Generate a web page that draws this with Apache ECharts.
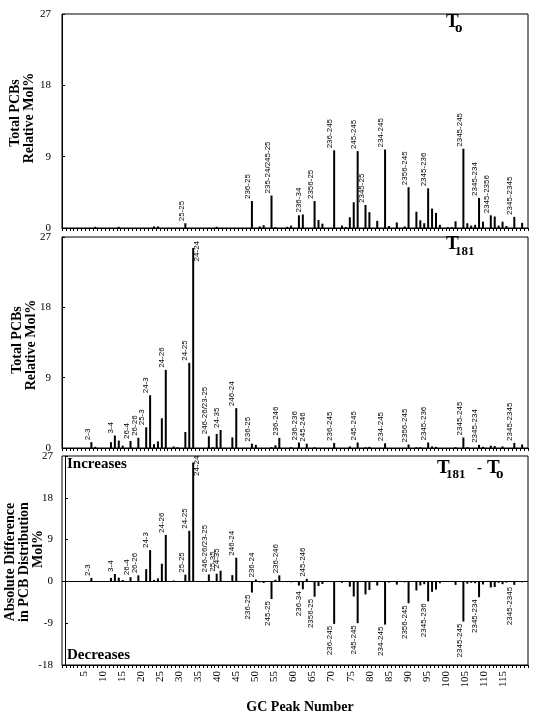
<!DOCTYPE html>
<html><head><meta charset="utf-8">
<script src="https://cdn.jsdelivr.net/npm/echarts@6/dist/echarts.min.js"></script>
<style>html,body{margin:0;padding:0;background:#fff}#c{width:544px;height:722px}</style>
</head><body><div id="c"></div>
<script>
// GC peak slots (bar categories)
const peaks = [];
for (let i = 1; i <= 119; i++) peaks.push(i);

// x tick labels shown under the bottom panel
const xTickLabels = [5,10,15,20,25,30,35,40,45,50,55,60,65,70,75,80,85,90,95,100,105,110,115];

// T0 relative mol% (index = peak-1)
const t0 = [
  0,0,0,0,0,0,0,0,0.15,0,
  0,0,0,0,0.15,0,0,0,0,0,
  0,0,0,0.2,0.2,0,0,0,0,0,
  0,0.6,0,0,0,0,0,0,0,0.15,
  0,0,0,0,0,0,0,0,3.4,0,
  0.2,0.35,0,4.1,0.1,0,0,0.15,0.3,0,
  1.6,1.7,0,0,3.4,1.0,0.55,0,0,9.8,
  0,0.3,0.1,1.35,3.25,9.7,0,2.9,2.0,0,
  0.9,0,9.9,0.25,0,0.7,0,0.2,5.15,0,
  2.05,0.97,0.6,5.0,2.45,1.9,0.4,0,0.1,0.1,
  0.85,0,10.0,0.6,0.3,0.4,3.8,0.8,0,1.6,
  1.45,0.3,0.8,0.25,0,1.4,0,0.65,0
];

// T181 relative mol%
const t181 = [
  0,0,0,0,0,0,0,0.75,0.15,0,
  0,0,0.75,1.6,0.95,0.3,0,0.9,0,1.3,
  0,2.65,6.75,0.5,0.85,3.8,10.0,0,0.2,0.1,
  0,2.05,10.9,25.6,0,0,0,1.5,0.1,1.8,
  2.3,0,0,1.35,5.1,0,0,0,0.55,0.4,
  0,0,0,0.1,0.35,1.3,0,0,0.1,0,
  0.7,0,0.55,0,0.1,0,0,0,0,0.65,
  0,0,0,0.2,0,0.7,0,0.1,0.15,0,
  0,0,0.6,0,0,0,0,0,0.45,0,
  0.1,0.1,0,0.7,0.2,0.15,0,0,0,0,
  0.1,0,1.35,0.1,0,0,0.4,0.15,0,0.3,
  0.25,0,0.2,0,0,0.65,0,0.45,0
];

// T181 - T0 absolute difference
const diff = [
  0,0,0,0,0,0,0,0.75,0,0,
  0,0,0.75,1.6,0.8,0.3,0,0.9,0,1.3,
  0,2.65,6.75,0.3,0.65,3.8,10.0,0,0.2,0.1,
  0,1.45,10.9,25.6,0,0,0,1.5,0.1,1.65,
  2.3,0,0,1.35,5.1,0,0,0,-2.4,0.4,
  -0.2,-0.35,0,-3.8,0.35,1.3,0,-0.15,-0.2,0,
  -0.9,-1.7,0.55,0,-3.3,-1.0,-0.55,0,0,-9.15,
  0,-0.3,-0.1,-1.15,-3.25,-9.0,0,-2.8,-1.85,0,
  -0.9,0,-9.3,-0.25,0,-0.7,0,-0.2,-4.7,0,
  -1.95,-0.87,-0.6,-4.3,-2.25,-1.75,-0.4,0,-0.1,-0.1,
  -0.75,0,-8.65,-0.5,-0.3,-0.4,-3.4,-0.65,0,-1.3,
  -1.2,-0.3,-0.6,-0.25,0,-0.75,0,-0.2,0
];

// congener labels: [peak, name]
const labelsT0 = [
  [32,'25-25'],[49,'236-25'],[54,'235-24/245-25'],[62,'236-34'],[65,'2356-25'],
  [70,'236-245'],[76,'245-245'],[78,'2345-25'],[83,'234-245'],[89,'2356-245'],
  [94,'2345-236'],[103,'2345-245'],[107,'2345-234'],[110,'2345-2356'],[116,'2345-2345']
];
const labelsT181 = [
  [8,'2-3'],[14,'3-4'],[18,'26-4'],[20,'26-26'],[22,'25-3'],[23,'24-3'],[27,'24-26'],
  [33,'24-25'],[34,'24-24'],[38,'246-26/23-25'],[41,'24-35'],[45,'246-24'],[49,'236-25'],
  [56,'236-246'],[61,'236-236'],[63,'245-246'],[70,'236-245'],[76,'245-245'],[83,'234-245'],
  [89,'2356-245'],[94,'2345-236'],[103,'2345-245'],[107,'2345-234'],[116,'2345-2345']
];
const labelsDiff = [
  [8,'2-3'],[14,'3-4'],[18,'26-4'],[20,'26-26'],[23,'24-3'],[27,'24-26'],[32,'25-25'],
  [33,'24-25'],[34,'24-24'],[38,'246-26/23-25'],[40,'25-35'],[41,'24-35'],[45,'246-24'],
  [49,'236-25'],[50,'236-24'],[54,'245-25'],[56,'236-246'],[62,'236-34'],[63,'245-246'],
  [65,'2356-25'],[70,'236-245'],[76,'245-245'],[83,'234-245'],[89,'2356-245'],
  [94,'2345-236'],[103,'2345-245'],[107,'2345-234'],[116,'2345-2345']
];

const SERIF = '"Liberation Serif", "Times New Roman", serif';
const SANS = '"Liberation Sans", Arial, sans-serif';

function labelFor(v, name) {
  const base = { show: true, formatter: name, rotate: 90, fontSize: 8, fontFamily: SANS, color: '#000' };
  if (name === '24-24') return Object.assign(base, { position: 'top', align: 'right', verticalAlign: 'top', distance: 7 });
  if (v < 0) return Object.assign(base, { position: 'bottom', align: 'right', verticalAlign: 'bottom', distance: 2 });
  return Object.assign(base, { position: 'top', align: 'left', verticalAlign: 'bottom', distance: 2 });
}
function build(vals, labels) {
  const m = new Map(labels);
  return vals.map((v, i) => {
    const n = m.get(i + 1);
    return n ? { value: v, label: labelFor(v, n) } : v;
  });
}

const grids = [
  { left: 62, top: 14, width: 466, height: 214 },
  { left: 62, top: 237, width: 466, height: 211 },
  { left: 62, top: 456, width: 466, height: 209 }
].map(g => Object.assign(g, { show: true, borderColor: '#000', borderWidth: 1, backgroundColor: 'transparent' }));

function barAxis(gi) {
  return {
    type: 'category', gridIndex: gi, data: peaks, position: 'bottom',
    boundaryGap: true,
    axisLine: { show: true, onZero: false, lineStyle: { color: '#000', width: 1 } },
    axisTick: { show: true, interval: 0, length: 3, lineStyle: { color: '#000', width: 1 } },
    axisLabel: { show: false }, splitLine: { show: false }
  };
}
function valAxis(gi, min, max, margin) {
  return {
    type: 'value', gridIndex: gi, min: min, max: max, interval: 9,
    axisLine: { show: true, lineStyle: { color: '#000' } },
    axisTick: { show: true, inside: true, length: 3, lineStyle: { color: '#000' } },
    axisLabel: { fontFamily: SERIF, fontSize: 11, color: '#000', margin: margin },
    splitLine: { show: false }
  };
}

const chart = echarts.init(document.getElementById('c'), null, { renderer: 'canvas' });
chart.setOption({
  animation: false,
  backgroundColor: '#fff',
  grid: grids,
  xAxis: [
    barAxis(0), barAxis(1), barAxis(2),
    {
      type: 'value', gridIndex: 2, position: 'bottom', min: -0.78, max: 121.56,
      axisLine: { show: false }, axisTick: { show: false }, splitLine: { show: false },
      axisLabel: { customValues: xTickLabels, rotate: 90, fontFamily: SERIF, fontSize: 11, color: '#000', margin: 6 }
    }
  ],
  yAxis: [valAxis(0, 0, 27, 11), valAxis(1, 0, 27, 11), valAxis(2, -18, 27, 9)],
  series: [
    { type: 'bar', xAxisIndex: 0, yAxisIndex: 0, data: build(t0, labelsT0), barWidth: 2, itemStyle: { color: '#000' } },
    { type: 'bar', xAxisIndex: 1, yAxisIndex: 1, data: build(t181, labelsT181), barWidth: 2, itemStyle: { color: '#000' } },
    { type: 'bar', xAxisIndex: 2, yAxisIndex: 2, data: build(diff, labelsDiff), barWidth: 2, itemStyle: { color: '#000' },
      markLine: { silent: true, symbol: 'none', label: { show: false }, lineStyle: { color: '#000', type: 'solid', width: 1 }, data: [{ yAxis: 0 }] } }
  ],
  graphic: [
    { type: 'text', left: 446, top: 13, style: { text: 'T', font: 'bold 19px ' + SERIF, fill: '#000' } },
    { type: 'text', left: 455, top: 21, style: { text: 'o', font: 'bold 15px ' + SERIF, fill: '#000' } },
    { type: 'text', left: 446, top: 235, style: { text: 'T', font: 'bold 19px ' + SERIF, fill: '#000' } },
    { type: 'text', left: 455, top: 245, style: { text: '181', font: 'bold 13px ' + SERIF, fill: '#000' } },
    { type: 'text', left: 437, top: 459, style: { text: 'T', font: 'bold 19px ' + SERIF, fill: '#000' } },
    { type: 'text', left: 446, top: 468, style: { text: '181', font: 'bold 13px ' + SERIF, fill: '#000' } },
    { type: 'text', left: 477, top: 461, style: { text: '-', font: 'bold 15px ' + SERIF, fill: '#000' } },
    { type: 'text', left: 487, top: 459, style: { text: 'T', font: 'bold 19px ' + SERIF, fill: '#000' } },
    { type: 'text', left: 496, top: 467, style: { text: 'o', font: 'bold 15px ' + SERIF, fill: '#000' } },
    { type: 'text', left: 67, top: 457, style: { text: 'Increases', font: 'bold 15px ' + SERIF, fill: '#000' } },
    { type: 'text', left: 67, top: 648, style: { text: 'Decreases', font: 'bold 15px ' + SERIF, fill: '#000' } },
    { type: 'text', x: 15, y: 113, rotation: Math.PI / 2, style: { text: 'Total PCBs', font: 'bold 14px ' + SERIF, fill: '#000', textAlign: 'center', textVerticalAlign: 'middle' } },
    { type: 'text', x: 29, y: 118, rotation: Math.PI / 2, style: { text: 'Relative Mol%', font: 'bold 14px ' + SERIF, fill: '#000', textAlign: 'center', textVerticalAlign: 'middle' } },
    { type: 'text', x: 17, y: 340, rotation: Math.PI / 2, style: { text: 'Total PCBs', font: 'bold 14px ' + SERIF, fill: '#000', textAlign: 'center', textVerticalAlign: 'middle' } },
    { type: 'text', x: 31, y: 345, rotation: Math.PI / 2, style: { text: 'Relative Mol%', font: 'bold 14px ' + SERIF, fill: '#000', textAlign: 'center', textVerticalAlign: 'middle' } },
    { type: 'text', x: 10, y: 562, rotation: Math.PI / 2, style: { text: 'Absolute Difference', font: 'bold 14px ' + SERIF, fill: '#000', textAlign: 'center', textVerticalAlign: 'middle' } },
    { type: 'text', x: 24, y: 562, rotation: Math.PI / 2, style: { text: 'in PCB Distribution', font: 'bold 14px ' + SERIF, fill: '#000', textAlign: 'center', textVerticalAlign: 'middle' } },
    { type: 'text', x: 38, y: 549, rotation: Math.PI / 2, style: { text: 'Mol%', font: 'bold 14px ' + SERIF, fill: '#000', textAlign: 'center', textVerticalAlign: 'middle' } },
    { type: 'text', x: 300, y: 707, style: { text: 'GC Peak Number', font: 'bold 14px ' + SERIF, fill: '#000', textAlign: 'center', textVerticalAlign: 'middle' } }
  ]
});
</script></body></html>
